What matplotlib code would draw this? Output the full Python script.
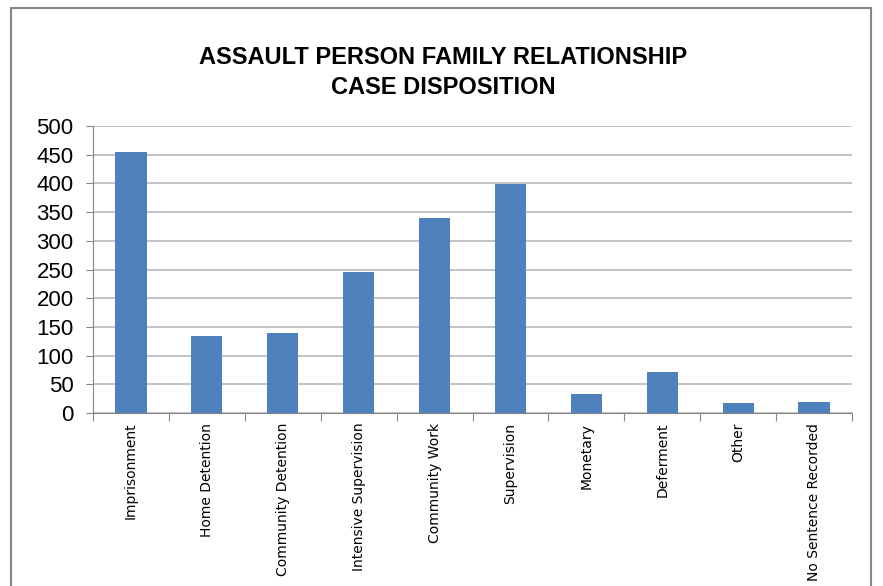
import numpy as np
import matplotlib
matplotlib.use('Agg')
import matplotlib.pyplot as plt
from matplotlib.patches import Rectangle

categories = ['Imprisonment', 'Home Detention', 'Community Detention',
              'Intensive Supervision', 'Community Work', 'Supervision',
              'Monetary', 'Deferment', 'Other', 'No Sentence Recorded']
counts = [455, 134, 139, 246, 340, 399, 33, 71, 17, 19]
yticks = [0, 50, 100, 150, 200, 250, 300, 350, 400, 450, 500]

W, H = 883, 586
fig = plt.figure(figsize=(W / 100, H / 100), dpi=100)
fig.patch.set_facecolor('white')

# outer chart-area border (bottom is cut off in the source)
fig.patches.append(Rectangle((11 / W, -0.05), 860 / W, 1.05 - 8 / H,
                             transform=fig.transFigure, fill=False,
                             edgecolor='#868686', linewidth=1.5))

ax = fig.add_axes([93 / W, 1 - 413 / H, (852 - 93) / W, (413 - 126) / H])
x = np.arange(len(categories))
ax.bar(x, counts, width=0.41, color='#4F81BD', zorder=3)

ax.set_xlim(-0.5, len(categories) - 0.5)
ax.set_ylim(0, 500)
ax.set_yticks(yticks)
ax.yaxis.grid(True, color='#b3b3b3', linewidth=1.1, zorder=0)
ax.tick_params(axis='y', length=5, color='#868686', labelsize=16, pad=9)
for lab in ax.get_yticklabels():
    lab.set_family('Liberation Sans')

ax.set_xticks(np.arange(len(categories) + 1) - 0.5)
ax.set_xticklabels([])
ax.tick_params(axis='x', length=6, color='#868686')
ax.set_xticks(x, minor=True)
ax.set_xticklabels(categories, minor=True, rotation=90, fontsize=10,
                   family='DejaVu Sans', va='top')
ax.tick_params(axis='x', which='minor', length=0, pad=7)

for s in ['top', 'right']:
    ax.spines[s].set_visible(False)
ax.spines['left'].set_color('#868686')
ax.spines['bottom'].set_color('#868686')

fig.text(443 / W, 1 - 57 / H, 'ASSAULT PERSON FAMILY RELATIONSHIP',
         ha='center', va='center', fontsize=17, fontweight='bold',
         family='Liberation Sans')
fig.text(443 / W, 1 - 88 / H, 'CASE DISPOSITION',
         ha='center', va='center', fontsize=17, fontweight='bold',
         family='Liberation Sans')

fig.savefig('out.png', dpi=100)
